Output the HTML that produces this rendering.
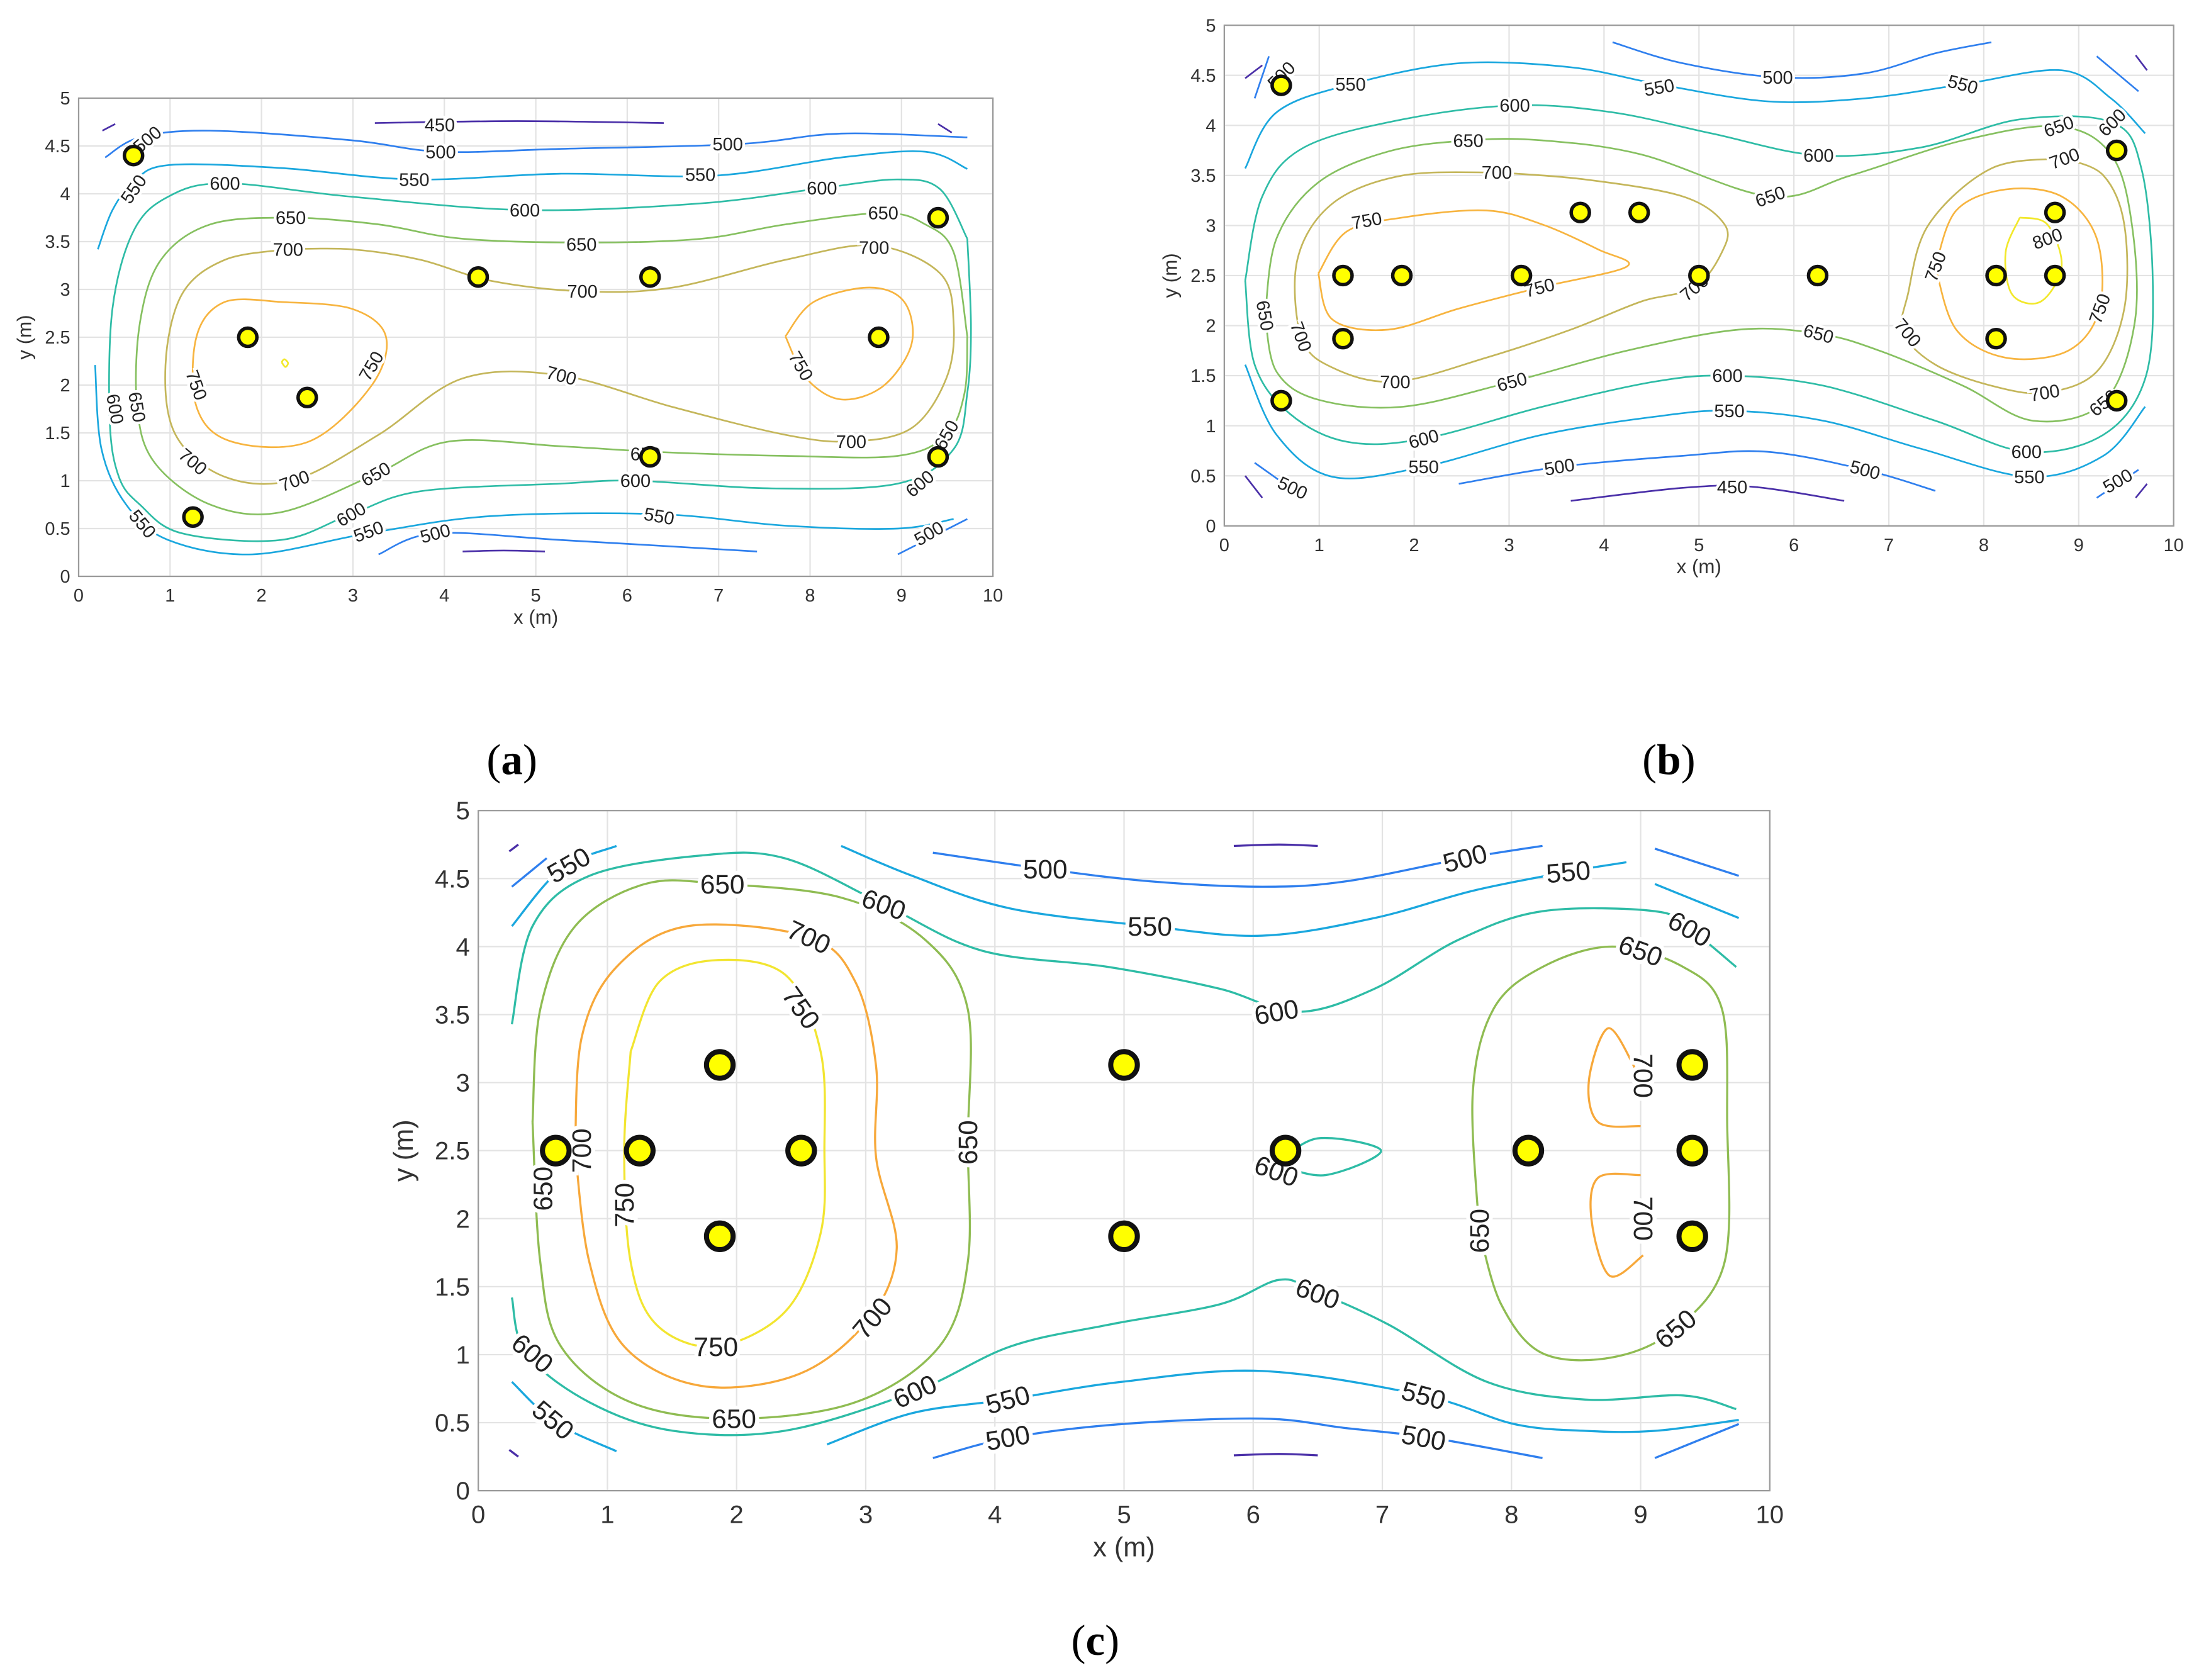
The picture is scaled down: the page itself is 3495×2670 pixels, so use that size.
<!DOCTYPE html>
<html><head><meta charset="utf-8">
<style>
html,body{margin:0;padding:0;background:#fff;}
svg{display:block;}
text{font-family:"Liberation Sans",sans-serif;}
</style></head>
<body>
<svg id="fig" width="3495" height="2670" viewBox="0 0 1568 1198" xmlns="http://www.w3.org/2000/svg">
<rect x="0" y="0" width="1568" height="1198" fill="#fff"/>
</svg>
<script>
const xTicks=[0,1,2,3,4,5,6,7,8,9,10];
const yTicks=[0,0.5,1,1.5,2,2.5,3,3.5,4,4.5,5];
const yTickLabels=["0","0.5","1","1.5","2","2.5","3","3.5","4","4.5","5"];

// Panel (a)
const aSensorX=[0.6,1.85,2.5,4.37,6.25,8.75,9.4,6.25,9.4,1.25];
const aSensorY=[4.4,2.5,1.87,3.13,3.13,2.5,3.75,1.25,1.25,0.62];
const aLevels=[450,450,450,450,500,500,500,550,550,600,650,700,750,750,800];
const aLines=[
[3.24,4.74,4.8,4.76,6.4,4.74],
[4.2,0.26,4.65,0.27,5.1,0.26],
[0.26,4.66,0.4,4.73],
[9.4,4.73,9.55,4.64],
[0.29,4.38,0.67,4.59,1.44,4.66,2.98,4.56,3.96,4.44,5.28,4.47,7.22,4.52,8.34,4.63,9.72,4.59],
[3.28,0.23,3.9,0.45,5.28,0.38,7.42,0.26],
[8.96,0.23,9.72,0.6],
[0.21,3.42,0.37,3.83,0.6,4.12,0.98,4.3,2.21,4.27,3.67,4.15,5.28,4.21,6.96,4.19,8.34,4.38,9.26,4.44,9.72,4.26],
[0.18,2.21,0.25,1.33,0.52,0.75,0.98,0.38,1.9,0.23,3.17,0.45,4.51,0.63,6.35,0.65,7.73,0.53,8.96,0.5,9.57,0.6],
[9.72,3.53,9.42,4.05,8.96,4.15,8.13,4.06,6.81,3.9,4.88,3.83,2.98,3.97,1.6,4.11,0.98,3.97,0.6,3.61,0.37,2.8,0.34,1.63,0.44,1.04,0.67,0.75,1.13,0.45,2.21,0.38,2.98,0.65,3.74,0.89,5.28,0.97,6.09,1.0,7.58,0.92,8.96,0.97,9.57,1.33,9.72,1.92,9.76,2.6,9.72,3.53],
[9.72,2.51,9.57,3.39,9.26,3.68,8.8,3.8,7.73,3.68,6.81,3.53,5.58,3.49,4.2,3.53,3.28,3.68,2.32,3.75,1.44,3.68,0.9,3.31,0.67,2.65,0.64,1.77,0.83,1.19,1.44,0.75,2.21,0.67,3.25,1.07,4.05,1.41,5.28,1.36,6.35,1.3,7.73,1.26,8.96,1.26,9.49,1.48,9.69,1.92,9.72,2.51],
[2.29,3.42,1.6,3.31,1.13,2.95,0.95,2.21,1.06,1.48,1.6,1.04,2.36,1.01,3.28,1.48,4.2,2.07,5.28,2.1,6.5,1.77,7.73,1.48,8.45,1.41,9.11,1.55,9.49,2.07,9.57,2.65,9.42,3.17,8.7,3.46,7.73,3.31,6.5,3.02,5.51,2.98,4.51,3.09,3.74,3.31,2.98,3.42,2.29,3.42],
[2.21,2.87,1.6,2.87,1.29,2.51,1.29,1.77,1.67,1.41,2.52,1.41,3.2,1.99,3.36,2.51,2.98,2.8,2.21,2.87],
[7.73,2.51,8.04,2.87,8.65,3.02,9.03,2.87,9.11,2.43,8.8,1.99,8.34,1.85,7.96,2.07,7.73,2.51],
[2.22,2.24,2.26,2.19,2.29,2.23,2.25,2.27,2.22,2.24]
];
const aLabelVals=[450,500,500,500,550,550,550,600,600,600,650,650,650,700,700,700,750,750,750,700,700,700,700,650,650,650,650,600,600,600,600,550,550,550,500,500];
const aLabelPos=[
[3.95,4.72,0],[0.75,4.57,-40],[3.96,4.44,0],[7.1,4.52,0],[0.6,4.05,-55],[3.67,4.15,0],[6.8,4.2,0],
[1.6,4.11,0],[4.88,3.83,0],[8.13,4.06,0],[2.32,3.75,0],[5.5,3.47,0],[8.8,3.8,0],
[2.29,3.42,0],[5.51,2.98,0],[8.7,3.44,0],[1.29,2.0,70],[3.2,2.2,-60],[7.9,2.2,60],
[5.28,2.1,15],[8.45,1.41,0],[1.25,1.2,40],[2.36,1.0,-20],
[0.64,1.77,80],[3.25,1.07,-30],[6.2,1.28,0],[9.49,1.48,-60],
[0.4,1.75,80],[2.98,0.65,-30],[6.09,1.0,0],[9.2,0.97,-40],
[0.7,0.55,50],[3.17,0.47,-20],[6.35,0.63,10],[3.9,0.45,-15],[9.3,0.45,-30]];

// Panel (b)
const bSensorX=[0.6,1.25,1.87,3.13,3.75,4.37,5,6.25,8.13,8.75,8.75,8.13,1.25,0.6,9.4,9.4];
const bSensorY=[4.4,2.5,2.5,2.5,3.13,3.13,2.5,2.5,2.5,2.5,3.13,1.87,1.87,1.25,3.75,1.25];
const bLevels=[450,450,450,450,450,500,500,500,500,500,500,550,550,600,650,700,700,750,750,800];
const bLines=[
[3.65,0.25,4.83,0.38,5.57,0.39,6.53,0.25],
[0.22,4.47,0.4,4.6],[9.6,4.7,9.72,4.55],[0.22,0.5,0.4,0.28],[9.6,0.28,9.72,0.42],
[4.09,4.83,4.83,4.62,5.83,4.48,6.75,4.52,7.49,4.72,8.08,4.83],
[0.32,4.27,0.47,4.69],
[9.19,4.69,9.63,4.34],
[2.47,0.42,3.53,0.59,4.83,0.7,5.72,0.74,6.75,0.56,7.49,0.35],
[0.32,0.63,0.84,0.28],
[9.19,0.28,9.63,0.56],
[0.22,3.57,0.55,4.13,1.33,4.41,2.47,4.62,3.65,4.58,4.58,4.41,5.72,4.24,6.75,4.27,7.78,4.41,8.82,4.55,9.34,4.27,9.7,3.92],
[0.22,1.61,0.55,0.91,1.14,0.49,2.1,0.59,3.35,0.91,4.53,1.09,5.32,1.15,6.31,1.05,7.34,0.77,8.48,0.49,9.26,0.7,9.7,1.19],
[0.22,2.45,0.4,3.29,0.84,3.78,1.88,4.06,3.06,4.2,4.09,4.13,5.13,3.92,6.26,3.7,7.34,3.78,8.38,4.06,9.35,4.03,9.66,3.57,9.78,2.45,9.7,1.47,9.26,0.91,8.45,0.74,7.49,1.05,6.31,1.4,5.3,1.5,4.53,1.44,3.35,1.19,2.1,0.87,1.29,0.84,0.69,1.12,0.32,1.61,0.22,2.45],
[0.43,2.1,0.55,2.87,0.99,3.43,1.73,3.74,2.57,3.85,3.35,3.85,4.39,3.71,5.75,3.29,6.6,3.5,7.78,3.85,8.79,3.99,9.34,3.71,9.56,3.01,9.59,2.03,9.26,1.23,8.52,1.05,7.78,1.4,6.9,1.75,6.26,1.92,5.42,1.96,4.24,1.75,3.03,1.44,1.88,1.19,0.99,1.26,0.55,1.54,0.43,2.1],
[2.87,3.53,1.88,3.5,1.14,3.22,0.77,2.66,0.81,1.89,1.14,1.58,1.8,1.44,2.76,1.68,3.65,1.96,4.39,2.24,4.95,2.38,5.24,2.73,5.27,3.01,4.83,3.29,3.8,3.46,2.87,3.53],
[8.85,3.67,8.08,3.57,7.42,3.01,7.2,2.31,7.15,1.93,7.49,1.61,8.08,1.4,8.64,1.33,9.19,1.54,9.48,2.17,9.48,3.01,9.26,3.5,8.85,3.67],
[0.99,2.52,1.29,2.94,1.88,3.08,2.76,3.15,3.35,3.01,3.94,2.76,4.24,2.59,3.32,2.38,2.47,2.17,1.73,1.96,1.14,2.06,0.99,2.52],
[7.49,2.59,7.71,3.15,8.23,3.36,8.82,3.29,9.19,2.87,9.22,2.17,8.89,1.75,8.23,1.68,7.71,1.96,7.49,2.59],
[8.38,3.08,8.67,3.01,8.82,2.59,8.6,2.24,8.3,2.31,8.23,2.73,8.38,3.08]
];
const bLabelVals=[500,550,550,550,500,600,600,600,650,650,650,700,700,750,750,700,750,800,750,700,700,650,700,650,650,700,650,600,600,600,550,550,550,500,500,500,500,450];
const bLabelPos=[
[0.6,4.5,-45],[1.33,4.41,0],[4.58,4.38,-10],[7.78,4.41,15],[5.83,4.48,0],[3.06,4.2,0],[6.26,3.7,0],[9.35,4.03,-45],
[2.57,3.85,0],[5.75,3.29,-20],[8.79,3.99,-20],[2.87,3.53,0],[8.85,3.67,-20],[1.5,3.05,-10],[3.32,2.38,-15],
[4.95,2.38,-40],[7.49,2.59,-70],[8.67,2.87,-20],[9.22,2.17,-70],[7.2,1.93,50],[0.81,1.89,70],[0.43,2.1,80],
[1.8,1.44,0],[3.03,1.44,-15],[6.26,1.92,15],[8.64,1.33,-10],[9.26,1.23,-40],[5.3,1.5,0],[2.1,0.87,-15],[8.45,0.74,0],
[2.1,0.59,0],[5.32,1.15,0],[8.48,0.49,0],[0.72,0.38,25],[3.53,0.59,-10],[6.75,0.56,15],[9.41,0.45,-30],[5.35,0.39,0]];

// Panel (c)
const cSensorX=[0.6,1.25,1.87,1.87,2.5,5,5,6.25,8.13,9.4,9.4,9.4];
const cSensorY=[2.5,2.5,3.13,1.87,2.5,3.13,1.87,2.5,2.5,3.13,2.5,1.87];
const cLevels=[450,450,450,450,500,500,500,500,500,550,550,550,550,550,600,600,600,650,650,700,700,700,750];
const cLines=[
[5.85,4.74,6.2,4.75,6.5,4.74],
[5.85,0.26,6.2,0.27,6.5,0.26],
[0.24,4.7,0.31,4.75],
[0.24,0.3,0.31,0.25],
[3.52,4.69,4.39,4.57,5.2,4.48,6.07,4.44,6.72,4.48,7.64,4.65,8.24,4.74],
[0.26,4.44,0.53,4.65],
[9.11,4.72,9.76,4.52],
[3.52,0.24,4.12,0.39,4.99,0.49,6.07,0.53,6.72,0.46,7.37,0.39,8.24,0.24],
[9.11,0.24,9.76,0.49],
[0.26,4.15,0.64,4.57,1.07,4.74],
[2.81,4.74,3.36,4.52,4.12,4.28,5.2,4.15,6.07,4.08,6.94,4.21,7.7,4.41,8.44,4.55,8.89,4.62],
[9.11,4.46,9.76,4.21],
[2.7,0.34,3.36,0.57,4.1,0.67,4.98,0.8,6.07,0.88,7.32,0.7,8.02,0.49,8.57,0.44,9.11,0.44,9.76,0.52],
[0.26,0.8,0.6,0.5,1.07,0.29],
[0.26,3.43,0.42,4.15,0.86,4.52,1.73,4.67,2.37,4.65,3.14,4.31,3.9,3.97,4.88,3.85,5.74,3.69,6.34,3.52,6.94,3.69,7.59,4.05,8.24,4.26,9.11,4.26,9.38,4.13,9.74,3.85],
[0.26,1.42,0.37,1.01,0.86,0.65,1.51,0.44,2.37,0.44,3.38,0.73,4.12,1.06,4.88,1.22,5.74,1.37,6.2,1.55,6.47,1.47,7.05,1.22,7.81,0.8,8.57,0.67,9.33,0.7,9.74,0.6],
[6.18,2.4,6.5,2.59,6.99,2.5,6.56,2.32,6.18,2.4],
[0.42,2.71,0.48,3.54,0.75,4.15,1.29,4.46,1.89,4.46,2.81,4.36,3.46,4.05,3.79,3.54,3.79,2.56,3.79,1.68,3.57,1.06,2.92,0.65,1.98,0.53,1.18,0.65,0.64,1.06,0.48,1.68,0.42,2.71],
[7.75,1.91,7.7,2.92,7.86,3.54,8.24,3.85,8.78,4.0,9.33,3.85,9.63,3.54,9.67,2.71,9.65,1.68,9.27,1.19,8.78,0.98,8.24,1.01,7.92,1.37,7.75,1.91],
[0.75,2.5,0.8,3.33,1.07,3.85,1.62,4.15,2.56,4.07,2.92,3.74,3.08,3.12,3.08,2.45,3.24,1.78,3.03,1.27,2.49,0.86,1.73,0.77,1.13,1.06,0.86,1.68,0.75,2.5],
[9.0,2.68,8.67,2.71,8.6,3.02,8.75,3.4,8.96,3.1],
[9.0,2.32,8.67,2.3,8.62,1.99,8.76,1.58,9.02,1.73],
[1.18,3.23,1.4,3.74,1.84,3.9,2.38,3.79,2.65,3.23,2.68,2.51,2.65,1.89,2.38,1.32,1.84,1.06,1.38,1.22,1.18,1.68,1.13,2.5,1.18,3.23]
];
const cLabelVals=[550,650,600,500,550,600,500,550,600,650,700,750,700,650,750,650,750,700,650,600,550,500,600,600,550,500,650,700,700,650,600,550];
const cLabelPos=[
[0.7,4.6,-30],[1.89,4.46,0],[3.14,4.31,20],[4.39,4.57,0],[5.2,4.15,0],[6.18,3.52,-10],[7.64,4.65,-15],[8.44,4.55,-5],
[9.38,4.13,30],[9.0,3.97,20],[2.56,4.07,25],[2.5,3.55,55],[0.8,2.5,-90],[0.5,2.22,-90],[1.13,2.1,-90],[3.79,2.56,-90],
[1.84,1.06,0],[3.05,1.27,-50],[1.98,0.53,0],[3.38,0.73,-25],[4.1,0.67,-15],[4.1,0.39,-10],[6.18,2.35,20],[6.5,1.45,20],
[7.32,0.7,15],[7.32,0.39,10],[7.75,1.91,-90],[9.02,3.05,90],[9.02,2.0,90],[9.27,1.19,-40],[0.42,1.01,40],[0.58,0.52,40]];

const colAB={450:"#4a2fa8",500:"#2f7fee",550:"#1aa7de",600:"#2ebca6",650:"#86c060",700:"#c4b65a",750:"#f7b43f",800:"#f2e82a"};
const colC={450:"#4a2fa8",500:"#2f7fee",550:"#1aa7de",600:"#2ebca6",650:"#8fbc52",700:"#f7a83a",750:"#f2e530"};

const NS="http://www.w3.org/2000/svg";
const svg=document.getElementById('fig');
function mk(tag,attrs,parent){const e=document.createElementNS(NS,tag);for(const k in attrs)e.setAttribute(k,attrs[k]);(parent||svg).appendChild(e);return e;}

function smoothPath(pts){
  let d="M"+pts[0][0].toFixed(2)+","+pts[0][1].toFixed(2);
  for(let i=0;i<pts.length-1;i++){
    const p0=pts[Math.max(0,i-1)],p1=pts[i],p2=pts[i+1],p3=pts[Math.min(pts.length-1,i+2)];
    const c1=[p1[0]+(p2[0]-p0[0])/6,p1[1]+(p2[1]-p0[1])/6];
    const c2=[p2[0]-(p3[0]-p1[0])/6,p2[1]-(p3[1]-p1[1])/6];
    d+=" C"+c1[0].toFixed(2)+","+c1[1].toFixed(2)+" "+c2[0].toFixed(2)+","+c2[1].toFixed(2)+" "+p2[0].toFixed(2)+","+p2[1].toFixed(2);
  }
  return d;
}

function panel(p){
  const g=mk('g',{});
  
  
  const sx=v=>p.x0+(p.x1-p.x0)*v/10;
  const sy=v=>p.y0-(p.y0-p.y1)*v/5;
  // grid
  const grid=mk('g',{},g);
  
  
  xTicks.forEach(t=>mk('line',{x1:sx(t),x2:sx(t),y1:p.y1,y2:p.y0,stroke:"#e3e3e3","stroke-width":1},grid));
  yTicks.forEach(t=>mk('line',{x1:p.x0,x2:p.x1,y1:sy(t),y2:sy(t),stroke:"#e3e3e3","stroke-width":1},grid));
  const box=mk('rect',{x:p.x0,y:p.y1,width:p.x1-p.x0,height:p.y0-p.y1,fill:"none",stroke:"#9a9a9a","stroke-width":1},g);
  
  
  // ticks labels
  xTicks.forEach(t=>{
    const tx=mk('text',{x:sx(t),y:p.y0+p.fs+5,"font-size":p.fs,"text-anchor":"middle",fill:"#333"},g);
    tx.textContent=String(t);
    
    
  });
  yTicks.forEach((t,i)=>{
    const tx=mk('text',{x:p.x0-6,y:sy(t)+p.fs*0.35,"font-size":p.fs,"text-anchor":"end",fill:"#333"},g);
    tx.textContent=yTickLabels[i];
    
    
  });
  const xt=mk('text',{x:(p.x0+p.x1)/2,y:p.y0+p.fs*2.6,"font-size":p.fs*1.08,"text-anchor":"middle",fill:"#333"},g);
  xt.textContent="x (m)";
  
  
  const yx=p.x0-p.fs*2.6, yy=(p.y0+p.y1)/2;
  const yt=mk('text',{x:yx,y:yy,"font-size":p.fs*1.08,"text-anchor":"middle",fill:"#333",transform:`rotate(-90 ${yx} ${yy})`},g);
  yt.textContent="y (m)";
  
  
  // contours
  p.lines.forEach((arr,i)=>{
    const pts=[];for(let k=0;k<arr.length;k+=2)pts.push([sx(arr[k]),sy(arr[k+1])]);
    const path=mk('path',{d:smoothPath(pts),fill:"none",stroke:p.cols[p.levels[i]],"stroke-width":p.lw},g);
    
    
  });
  // labels
  p.lv.forEach((v,i)=>{
    const [x,y,r]=p.lp[i];const X=sx(x),Y=sy(y);
    const t=mk('text',{x:X,y:Y+p.lfs*0.35,"font-size":p.lfs,"text-anchor":"middle",fill:"#222",stroke:"#fff","stroke-width":p.lfs*0.3,"paint-order":"stroke",transform:`rotate(${r} ${X} ${Y})`},g);
    t.textContent=String(v);
    
    
  });
  // sensors
  p.sx.forEach((x,i)=>{
    const c=mk('circle',{cx:sx(x),cy:sy(p.sy[i]),r:p.r,fill:"#ffff00",stroke:"#111","stroke-width":p.r*0.38},g);
    
    
  });
  const cap=mk('text',{x:p.capX,y:p.capY,"font-size":31,"text-anchor":"middle",fill:"#000"},g);
  cap.setAttribute('style','font-family:"Liberation Serif",serif');
  cap.innerHTML='(<tspan font-weight="bold">'+p.cap+'</tspan>)';
  
  
}

panel({name:'panel-a',x0:56,x1:708,y0:411,y1:70,fs:13,lfs:13,lw:1.2,r:6.5,cols:colAB,levels:aLevels,lines:aLines,lv:aLabelVals,lp:aLabelPos,sx:aSensorX,sy:aSensorY,cap:'a',capX:365,capY:552});
panel({name:'panel-b',x0:873,x1:1550,y0:375,y1:18,fs:13,lfs:13,lw:1.2,r:6.5,cols:colAB,levels:bLevels,lines:bLines,lv:bLabelVals,lp:bLabelPos,sx:bSensorX,sy:bSensorY,cap:'b',capX:1190,capY:552});
panel({name:'panel-c',x0:341,x1:1262,y0:1063,y1:578,fs:18,lfs:19,lw:1.5,r:9.5,cols:colC,levels:cLevels,lines:cLines,lv:cLabelVals,lp:cLabelPos,sx:cSensorX,sy:cSensorY,cap:'c',capX:781,capY:1180});
</script>
</body></html>
